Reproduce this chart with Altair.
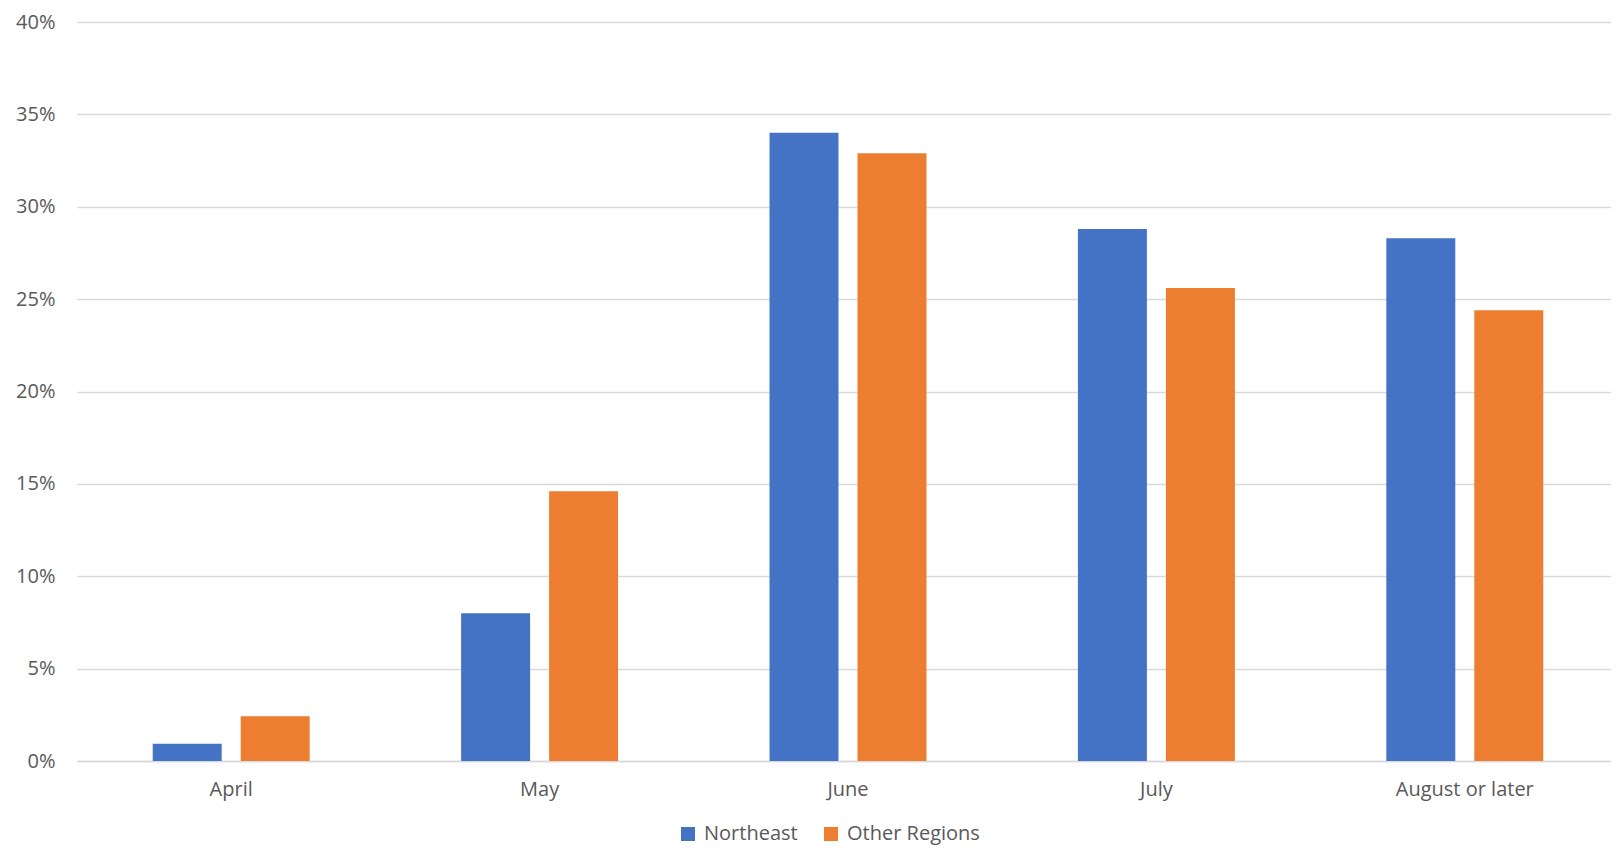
import altair as alt
import pandas as pd

categories = ["April", "May", "June", "July", "August or later"]
northeast = [0.0093, 0.080, 0.340, 0.288, 0.283]
other_regions = [0.0242, 0.146, 0.329, 0.256, 0.244]
series = ["Northeast", "Other Regions"]
colors = ["#4472C4", "#ED7D31"]

rows = []
for c, a, b in zip(categories, northeast, other_regions):
    rows.append({"month": c, "region": series[0], "value": a})
    rows.append({"month": c, "region": series[1], "value": b})
df = pd.DataFrame(rows)

FONT = "Open Sans"
TXT = "#595959"

chart = alt.Chart(df).mark_bar().encode(
    x=alt.X("month:N", sort=categories, title=None,
            scale=alt.Scale(paddingInner=0.491, paddingOuter=0.2455, range=[0, 1542]),
            axis=alt.Axis(labelAngle=0, ticks=False, grid=False, domainColor="#d9d9d9", domainWidth=1.5,
                          labelFont=FONT, labelFontSize=20, labelColor=TXT, labelPadding=18)),
    xOffset=alt.XOffset("region:N", sort=series,
                        scale=alt.Scale(paddingInner=0.216, paddingOuter=0)),
    y=alt.Y("value:Q", title=None,
            scale=alt.Scale(domain=[0, 0.4]),
            axis=alt.Axis(format=".0%", values=[0, 0.05, 0.1, 0.15, 0.2, 0.25, 0.3, 0.35, 0.4],
                          ticks=False, domain=False, gridColor="#d9d9d9", gridWidth=1.5,
                          labelFont=FONT, labelFontSize=20, labelColor=TXT, labelPadding=22)),
    color=alt.Color("region:N", sort=series, title=None,
                    scale=alt.Scale(domain=series, range=colors),
                    legend=alt.Legend(orient="none", legendX=601, legendY=802, direction="horizontal",
                                      symbolType="square", symbolSize=196, symbolStrokeWidth=0,
                                      labelFont=FONT, labelFontSize=20, labelColor=TXT,
                                      columnPadding=23, labelOffset=6)),
).properties(
    width=1534, height=739,
    autosize=alt.AutoSizeParams(type="none"),
    padding={"left": 69, "top": 14, "right": 0, "bottom": 87},
).configure(background="white").configure_view(stroke=None)

chart.save("out.html", embed_options={"renderer": "svg", "actions": False})
